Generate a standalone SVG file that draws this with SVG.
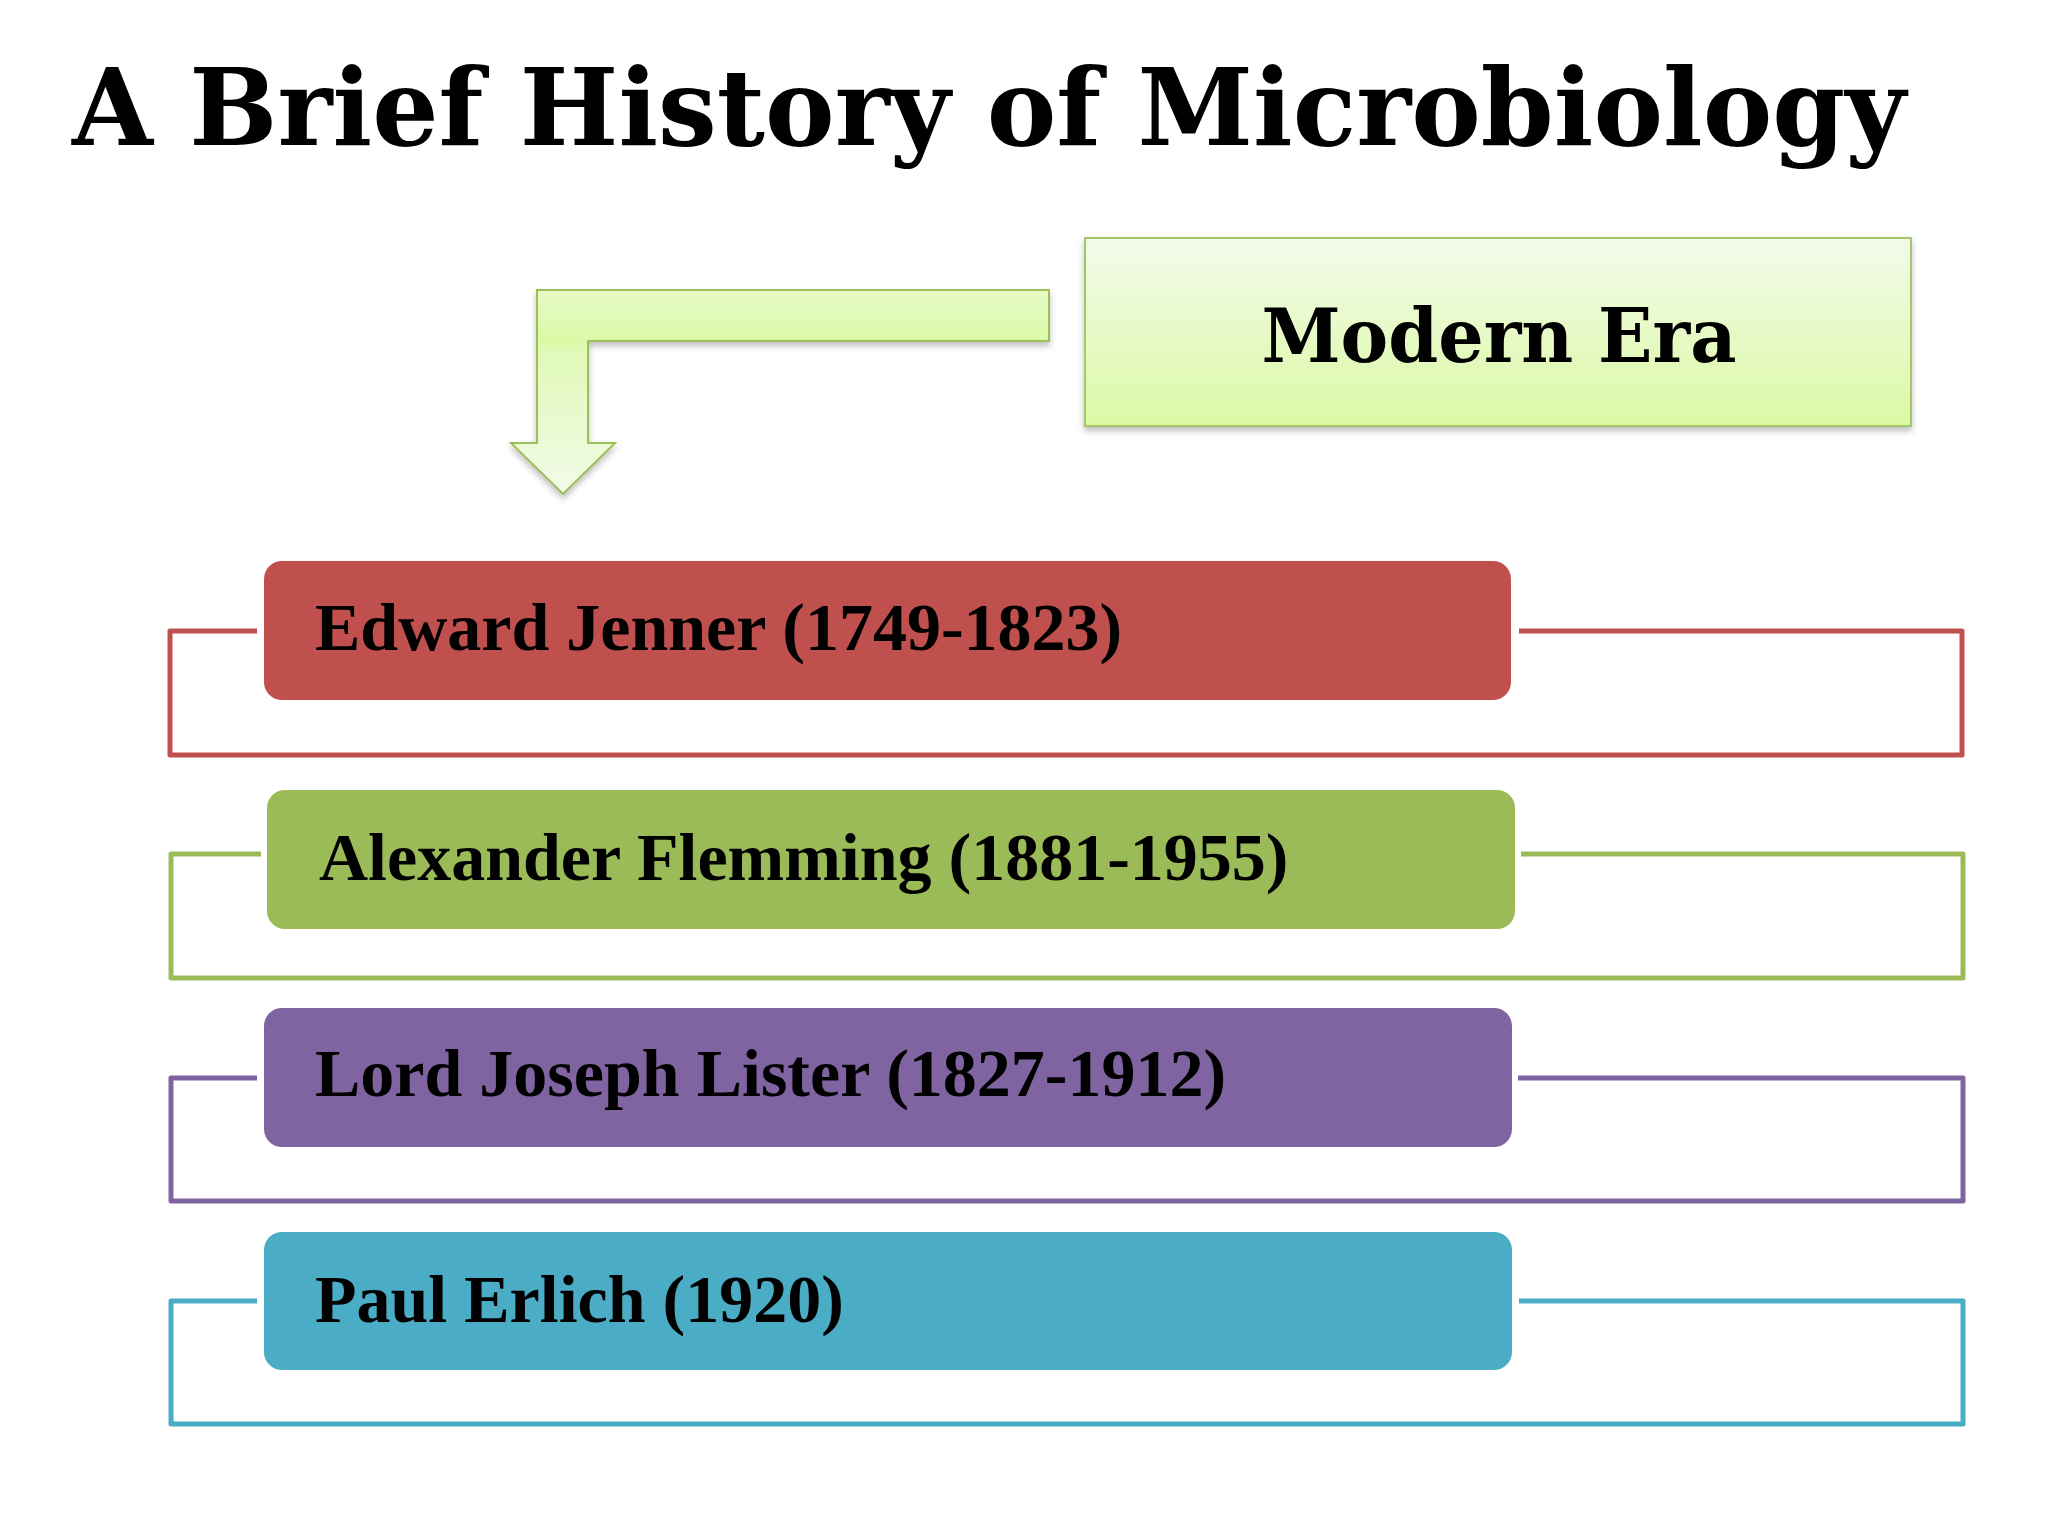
<svg xmlns="http://www.w3.org/2000/svg" width="2048" height="1536" viewBox="0 0 2048 1536">
  <defs>
    <linearGradient id="gBox" x1="0" y1="0" x2="0" y2="1">
      <stop offset="0" stop-color="#f3faea"/>
      <stop offset="1" stop-color="#dbf9a4"/>
    </linearGradient>
    <linearGradient id="gArrow" gradientUnits="userSpaceOnUse" x1="0" y1="290" x2="0" y2="494">
      <stop offset="0" stop-color="#e6f9c6"/>
      <stop offset="0.25" stop-color="#dbfaa6"/>
      <stop offset="0.3" stop-color="#e0f9b8"/>
      <stop offset="1" stop-color="#f2fbe8"/>
    </linearGradient>
    <filter id="shadow" x="-5%" y="-10%" width="110%" height="130%">
      <feDropShadow dx="0" dy="4" stdDeviation="3" flood-color="#000" flood-opacity="0.25"/>
    </filter>
  </defs>
  <style>
    .title { font-family: "DejaVu Serif", "Liberation Serif", serif; font-weight: bold; fill: #000; }
    .label { font-family: "Liberation Serif", "Times New Roman", serif; font-weight: bold; font-size: 68px; fill: #000; }
    .bracket { fill: none; stroke-width: 5; stroke-linejoin: round; }
    .bar { stroke: none; }
  </style>
  <rect width="2048" height="1536" fill="#ffffff"/>

  <g id="title">
    <text class="title" x="72" y="145" font-size="106" textLength="1834" lengthAdjust="spacingAndGlyphs">A Brief History of Microbiology</text>
  </g>

  <g id="modern-era">
    <rect x="1085" y="238" width="826" height="188" fill="url(#gBox)" stroke="#a6c66a" stroke-width="2" filter="url(#shadow)"/>
    <text class="title" x="1499" y="362" font-size="74" text-anchor="middle" textLength="475" lengthAdjust="spacingAndGlyphs">Modern Era</text>
  </g>

  <g id="connectors">
    <path d="M1049,290 H537 V443 H511 L563,494 L615,443 H588 V341 H1049 Z" fill="url(#gArrow)" stroke="#9cbf5a" stroke-width="2" filter="url(#shadow)"/>
  </g>

  <g id="jenner">
    <path class="bracket" stroke="#c0504d" d="M257,631 H170 V755 H1962 V631 H1519"/>
    <rect class="bar" x="264" y="561" width="1247" height="139" rx="18" fill="#c0504d"/>
    <text class="label" x="315" y="650">Edward Jenner (1749-1823)</text>
  </g>

  <g id="flemming">
    <path class="bracket" stroke="#9bbb59" d="M261,854 H171 V978 H1963 V854 H1521"/>
    <rect class="bar" x="267" y="790" width="1248" height="139" rx="18" fill="#9bbb59"/>
    <text class="label" x="319" y="880">Alexander Flemming (1881-1955)</text>
  </g>

  <g id="lister">
    <path class="bracket" stroke="#8064a2" d="M257,1078 H171 V1201 H1963 V1078 H1518"/>
    <rect class="bar" x="264" y="1008" width="1248" height="139" rx="18" fill="#8064a2"/>
    <text class="label" x="315" y="1096">Lord Joseph Lister (1827-1912)</text>
  </g>

  <g id="erlich">
    <path class="bracket" stroke="#4bacc6" d="M257,1301 H171 V1424 H1963 V1301 H1519"/>
    <rect class="bar" x="264" y="1232" width="1248" height="138" rx="18" fill="#4bacc6"/>
    <text class="label" x="315" y="1322">Paul Erlich (1920)</text>
  </g>
</svg>
